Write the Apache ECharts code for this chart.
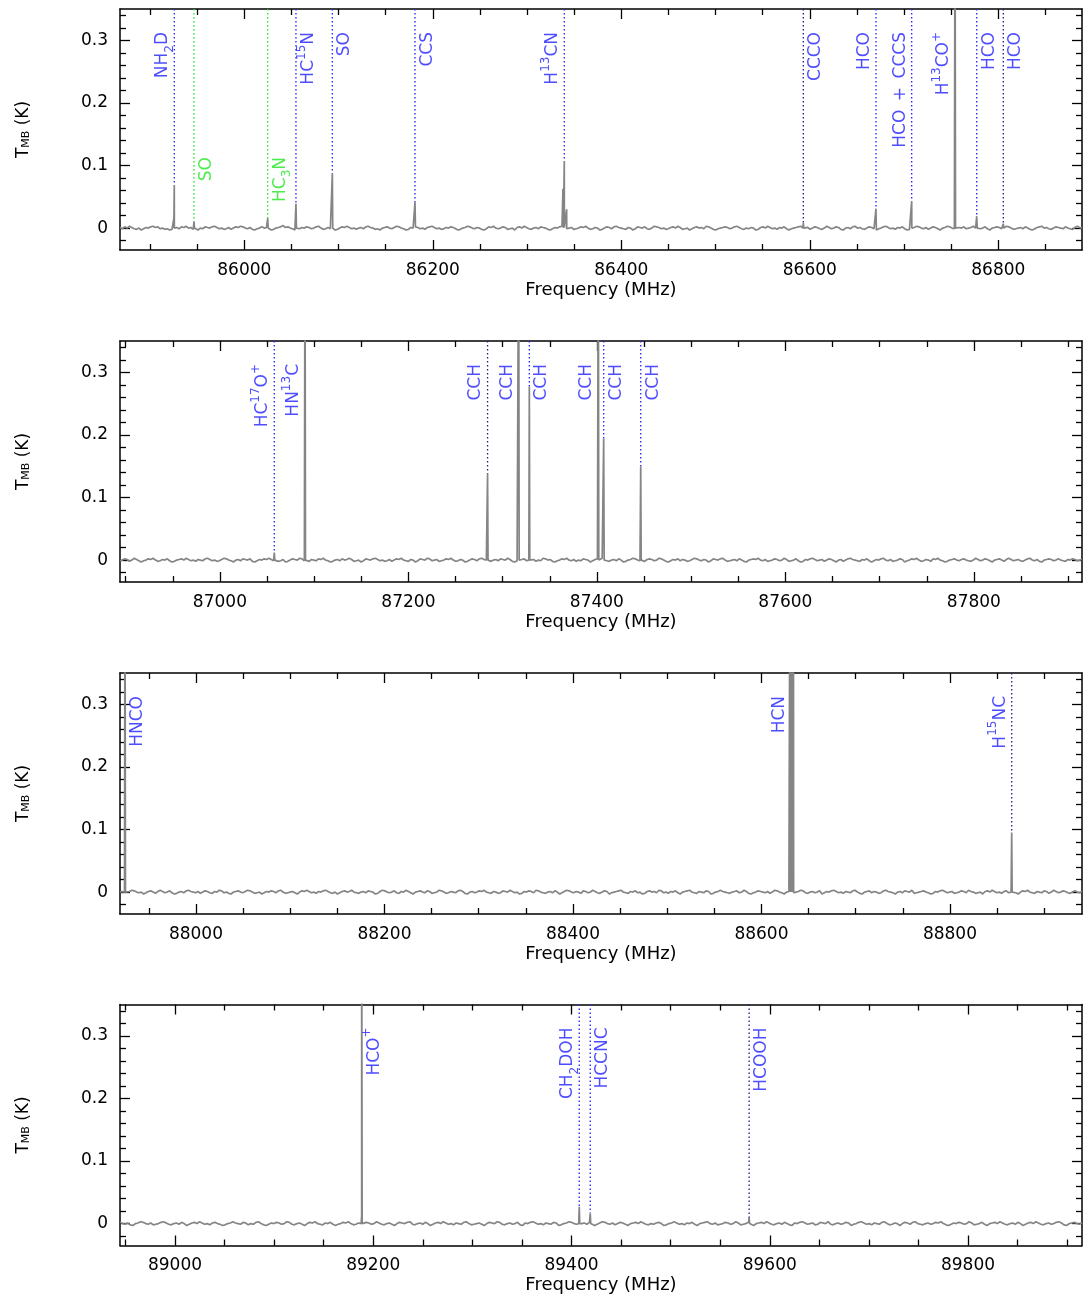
<!DOCTYPE html>
<html><head><meta charset="utf-8">
<script src="https://cdn.jsdelivr.net/npm/echarts@6/dist/echarts.min.js"></script>
<style>html,body{margin:0;padding:0;background:#fff}#c{width:1083px;height:1301px}</style>
</head><body><div id="c"></div>
<script>
// ---------------- DATA ----------------
// frequency range shown in each panel (MHz)
const panelRange = [[85868.1, 86888.8], [86894.0, 87914.7], [87919.4, 88940.1], [88944.5, 89915.0]];
const yMin = -0.035, yMax = 0.35;
const xTickValues = [
  [86000, 86200, 86400, 86600, 86800],
  [87000, 87200, 87400, 87600, 87800],
  [88000, 88200, 88400, 88600, 88800],
  [89000, 89200, 89400, 89600, 89800]
];
const yTickValues = [0, 0.1, 0.2, 0.3];
const yTickLabels = ['0', '0.1', '0.2', '0.3'];

// baseline noise (mK), evenly spread over each panel
const noise1 = [1,-1,2,0,3,1,-1,-2,0,-3,-1,1,0,2,3,1,2,-1,0,-2,
-1,-3,-2,0,1,-1,2,1,3,0,1,-2,-1,-3,0,-1,2,1,0,2,
3,1,-1,0,-2,-1,1,-2,0,2,1,3,2,0,-1,1,-2,-3,-1,0,
2,0,1,-1,-3,-2,0,1,2,4,1,2,0,-1,-3,-2,-1,1,0,2,
1,-1,0,2,3,0,-2,-1,1,-1,0,-3,-2,0,2,1,3,1,-1,0,
-2,0,1,-1,2,3,1,0,-2,-1,-3,0,1,2,0,-1,1,3,2,0,
-1,-3,-2,1,0,2,1,-1,0,-2,1,2,3,1,-1,0,-2,-1,1,0,
2,1,-1,-3,-2,0,1,3,2,0,-1,1,0,-2,-3,-1,2,1,3,0,
-1,0,2,1,-2,-1,0,-3,1,2,0,3,1,-1,-2,0,1,-1,2,1,
0,-2,-3,-1,1,0,2,3,1,-1,0,1,-2,-1,0,2,1,3,0,-2,
-1,1,0,-3,-2,0,2,1,-1,2,3,1,0,-1,-2,1,0,-3,-1,2,
1,0,2,-1,-2,0,3,2,1,-1,0,-2,-1,1,2,0,3,1,-2,-1,
0,-3,-1,1,2,0,1,-1,3,2,0,-2,-3,-1,0,1,2,1,-1,0,
2,3,1,-1,-2,0,-1,1,0,-3,-2,1,2,0,3,1,-1,0,-2,1,
0,2,-1,-3,-1,0,1,2,3,0,-1,1,-2,0,2,1,-1,-2,0,3,
1,-1,0,2,1,-2,-3,0,1,-1,2,3,0,1,-1,-2,0,2,1,-1,
-3,-1,0,2,3,1,-1,0,-2,1,0,2,-1,-3,-2,0,1,3,2,0,
-1,1,-2,0,2,1,-1,-3,0,1,3,2,0,-1,-2,1,0,2,-1,0,
1,3,0,-2,-1,0,2,-1,-3,0,1,2,1,-1,0,3,2,0,-2,-1,
0,1,-1,2,0,-2,-3,-1,1,2,3,0,1,-1,-2,0,2,1,0,-1,
2,0,-1,-2,1,3,1,0];
const noise2 = [-1,0,2,1,-2,0,3,1,-1,-3,-1,0,2,1,3,0,-2,-1,1,0,
2,-1,-3,-2,0,1,2,0,3,1,-1,0,-2,1,0,-1,2,3,1,-1,
0,-2,-1,1,3,2,0,-1,-3,0,1,-1,2,1,0,2,-2,-3,-1,1,
0,2,1,3,1,-1,0,-2,-1,1,-3,-2,0,2,1,0,3,2,-1,0,
-2,1,0,-1,2,1,3,0,-1,-3,-2,0,1,-1,2,0,1,3,1,-2,
-1,0,-3,-1,2,1,0,2,3,1,-1,0,-2,-1,1,-2,0,2,1,3,
0,-1,-2,1,0,-3,-1,2,1,0,3,2,-1,0,1,-2,-1,0,2,1,
3,0,-2,-1,1,0,-3,-2,0,2,1,-1,2,3,1,0,-1,-2,0,1,
-1,2,1,0,3,1,-2,-3,-1,0,1,2,-1,0,2,1,-2,0,-1,3,
2,0,1,-2,-3,-1,0,2,1,3,0,-1,1,-2,0,-1,2,1,0,-3,
-1,1,2,0,3,1,-1,-2,0,1,-1,2,0,-3,-2,0,1,3,2,0,
-1,0,-2,1,2,1,-1,0,3,2,0,-2,-3,-1,1,0,2,-1,1,0,
-2,-1,1,3,2,0,-1,1,0,-3,-1,2,1,0,2,3,0,-2,-1,0,
1,-1,2,0,-2,-3,0,1,2,1,3,0,-1,1,-2,-1,0,2,1,-1,
0,3,1,-2,-1,0,2,-1,-3,-2,1,0,2,3,1,-1,0,1,-2,0,
2,1,-1,-3,0,1,-2,0,2,3,1,0,-1,-2,1,0,2,-1,-3,-1,
1,0,2,3,0,-1,1,-2,-1,0,2,1,-3,-1,0,2,1,3,0,-2,
-1,1,0,-2,2,1,3,0,-1,-3,-2,0,1,2,0,-1,1,2,0,-1,
-2,0,3,1,-1,0,2,1,-1,-3,0,1,2,0,-2,1,3,1,-1,0,
1,-1,-2,0,2,3,0,-1,1,-2,-3,0,1,2,1,-1,0,2,0,-1,
-2,1,0,2,1,-1,0,1];
const noise3 = [0,1,-2,-1,1,3,2,0,-1,0,-3,-1,1,2,0,-2,1,3,1,-1,
0,2,-1,-3,-2,0,1,-1,2,3,1,0,-1,1,-2,0,2,1,-1,-2,
1,0,3,2,-1,0,-2,-3,0,1,2,0,-1,1,3,2,0,-2,-1,0,
-3,-1,1,0,2,1,-1,2,3,0,-2,-1,0,1,-1,-3,0,2,1,3,
1,-1,0,-2,1,0,2,3,1,-1,-2,0,-3,-1,1,2,0,1,3,0,
-1,-2,0,1,-1,2,1,0,-3,-2,1,3,2,0,-1,0,2,-1,-2,1,
0,3,1,-1,-3,0,1,2,0,-1,2,1,-2,-1,0,3,2,0,-2,-1,
1,0,-1,2,3,1,-2,-3,0,1,-1,0,2,1,3,0,-1,-2,1,0,
-2,-1,2,1,0,3,1,-1,0,-3,-2,1,0,2,1,-1,3,2,0,-1,
-2,0,1,-1,2,0,-3,-1,1,3,2,0,-1,1,0,-2,2,1,-1,0,
3,1,-1,-2,0,2,1,-3,-1,0,1,2,3,0,-1,-2,1,0,2,-1,
0,-3,-2,1,2,0,1,-1,3,2,-1,0,-2,1,0,2,-1,-3,0,1,
2,3,0,-1,-2,1,0,-1,2,1,-3,-2,0,1,3,1,0,-1,-2,0,
1,2,-1,0,3,1,-2,-3,-1,0,2,1,0,-1,1,-2,0,3,2,0,
-1,-3,0,1,2,-1,0,1,3,2,-1,-2,0,1,-1,0,2,-3,-1,1,
0,2,3,1,-1,0,-2,1,0,-1,2,3,0,-2,-3,0,1,2,-1,1,
0,-2,-1,2,3,1,0,-1,-3,0,1,-1,2,1,0,3,-2,-1,0,1,
2,0,-1,-3,-2,1,0,2,3,1,-1,0,1,-2,-1,0,2,1,-1,3,
1,0,-2,-1,0,-3,1,2,0,3,1,-1,0,-2,1,2,-1,0,1,-1,
-3,0,2,1,3,0,-1,-2,1,0,-1,2,1,-2,0,3,1,-1,0,2,
1,-1,-2,0,2,0,-1,1];
const noise4 = [2,0,-1,1,-2,-3,0,1,3,2,0,-1,1,-2,-1,0,2,3,1,-1,
-2,0,1,-1,2,0,-3,-1,1,2,0,3,1,-1,0,-2,1,2,0,-1,
-3,-2,0,1,3,1,0,-1,2,1,-2,0,-1,2,3,0,-2,-3,-1,1,
0,2,1,-1,0,3,2,-1,-2,0,1,-1,-3,0,2,1,3,0,-1,-2,
1,0,2,-1,-3,-1,0,2,1,3,0,-2,-1,1,0,-2,2,1,-1,0,
3,1,-1,-2,0,1,-1,-3,0,2,1,0,2,3,-1,-2,0,1,-1,2,
0,-3,-1,1,2,0,3,1,-1,0,-2,1,0,-1,2,3,0,-2,-1,0,
1,-1,-3,0,2,1,0,3,2,-1,-2,0,1,-1,0,2,-2,-3,1,0,
2,3,1,-1,0,-2,1,0,-1,2,1,-3,-2,0,1,3,2,0,-1,-2,
0,1,-1,2,0,-3,-1,1,3,2,0,-1,1,-2,0,2,1,-1,-3,0,
1,2,0,3,1,-1,-2,0,-1,1,2,0,-3,-2,0,1,3,1,-1,0,
-2,1,0,2,-1,-3,0,1,2,3,0,-1,1,-2,-1,0,2,1,-1,0,
3,1,-2,-1,0,2,-1,-3,0,1,2,0,3,1,-1,-2,0,1,-1,2,
0,-2,-3,1,0,2,3,1,-1,0,1,-2,-1,2,1,0,3,-1,-2,0,
1,-1,0,2,1,-3,-1,0,2,3,1,-1,0,-2,1,0,-1,2,3,0,
-2,-1,1,0,-3,0,2,1,-1,2,3,0,-1,-2,0,1,-1,0,2,1,
3,0,-2,-3,-1,1,0,2,1,-1,0,3,1,-2,-1,0,2,-1,-3,0,
1,2,0,3,1,-1,-2,0,1,-1,2,0,-3,-1,1,2,0,3,1,-1,
-2,0,1,-1,0,2,3,1,-2,-3,0,1,2,0,-1,1];

// spectral lines: [frequency MHz, peak T_MB (K), optional half width MHz]
const peaks1 = [[85925.2,0.015,1.2],[85925.7,0.069],[85946.6,0.011],[86024.8,0.0155],[86054.8,0.039],[86093.4,0.087],[86181.1,0.041],[86338.1,0.063],[86339.5,0.107],[86342.0,0.030],[86593.1,0.008],[86670.2,0.031],[86708.1,0.043],[86754.1,0.55],[86777.1,0.019],[86805.3,0.007]];
const peaks2 = [[87057.7,0.012],[87090.3,0.55],[87284.0,0.138],[87317.0,0.55],[87328.3,0.277],[87401.5,0.55],[87407.2,0.194],[87446.5,0.150]];
const peaks3 = [[87924.7,0.55],[88630.2,0.55],[88631.8,0.55],[88633.9,0.55],[88865.5,0.095]];
const peaks4 = [[89188.3,0.012,2.5],[89188.3,0.55],[89407.8,0.027],[89418.9,0.016],[89579.2,0.009]];

// line identifications: [frequency MHz, label]
const markers1 = [[85925.7,'NH_2D'],[85946.6,'SO'],[86024.8,'HC_3N'],[86054.8,'HC^{15}N'],[86093.4,'SO'],[86181.1,'CCS'],[86339.5,'H^{13}CN'],[86593.1,'CCCO'],[86670.2,'HCO'],[86708.1,'HCO\u2002+\u2002CCCS'],[86754.1,'H^{13}CO^+'],[86777.1,'HCO'],[86805.3,'HCO']];
const markers2 = [[87057.7,'HC^{17}O^+'],[87090.3,'HN^{13}C'],[87284.0,'CCH'],[87317.0,'CCH'],[87328.3,'CCH'],[87401.5,'CCH'],[87407.2,'CCH'],[87446.5,'CCH']];
const markers3 = [[87924.7,'HNCO'],[88631.8,'HCN'],[88865.5,'H^{15}NC']];
const markers4 = [[89188.3,'HCO^+'],[89407.8,'CH_2DOH'],[89418.9,'HCCNC'],[89579.2,'HCOOH']];
// marker style: colour (b blue, g green, k dark) - label side (l/r)
const markerStyle1 = ['b-l','g-r','g-r','b-r','b-r','b-r','b-l','k-r','b-l','b-l','b-l','b-r','k-r'];
const markerStyle2 = ['b-l','b-l','k-l','b-l','b-r','b-l','b-r','b-r'];
const markerStyle3 = ['b-r','b-l','k-l'];
const markerStyle4 = ['b-r','b-l','b-r','k-r'];

// ---------------- BUILD ----------------
const noises = [noise1, noise2, noise3, noise4];
const peaksAll = [peaks1, peaks2, peaks3, peaks4];
const markersAll = [markers1, markers2, markers3, markers4];
const stylesAll = [markerStyle1, markerStyle2, markerStyle3, markerStyle4];
const FONT = 'DejaVu Sans';
const gridTops = [9, 341, 673, 1004.5];
const COLORS = { b: '#2020ff', g: '#22e622', k: '#1a1a8a' };
const TEXTCOL = { b: '#2020ff', g: '#22e622', k: '#2020ff' };

function toRich(s) {
  let out = '', i = 0, buf = '';
  const flush = () => { if (buf) { out += '{n|' + buf + '}'; buf = ''; } };
  while (i < s.length) {
    const c = s[i];
    if (c === '_' || c === '^') {
      flush();
      let t;
      if (s[i + 1] === '{') { const j = s.indexOf('}', i); t = s.slice(i + 2, j); i = j + 1; }
      else { t = s[i + 1]; i += 2; }
      out += '{' + (c === '_' ? 'b' : 's') + '|' + t + '}';
    } else { buf += c; i++; }
  }
  flush();
  return out;
}

function buildSpectrum(range, noise, peaks) {
  const pts = [];
  const step = (range[1] - range[0]) / (noise.length - 1);
  noise.forEach((v, i) => pts.push([range[0] + i * step, v / 1000]));
  peaks.forEach(p => { const w = p[2] || 0.5; pts.push([p[0] - w, 0], [p[0], p[1]], [p[0] + w, 0]); });
  pts.sort((a, b) => a[0] - b[0]);
  return pts;
}

const grid = [], xAxis = [], yAxis = [], series = [];
const tickStyle = { color: '#000', width: 1.3 };
const lineStyleAx = { color: '#000', width: 1.5 };

for (let p = 0; p < 4; p++) {
  grid.push({ left: 120, right: 1, top: gridTops[p], height: 241 });
  const [mn, mx] = panelRange[p];
  const xMinor = [];
  for (let v = Math.ceil(mn / 50) * 50; v < mx; v += 50) if (v % 200 !== 0) xMinor.push(v);
  const yMinor = [];
  for (let k = -1; k <= 17; k++) if (k % 5 !== 0) yMinor.push(Math.round(k * 0.02 * 1000) / 1000);

  const xb = { type: 'value', gridIndex: p, min: mn, max: mx, splitLine: { show: false } };
  xAxis.push(
    Object.assign({}, xb, { position: 'bottom', axisLine: { onZero: false, lineStyle: lineStyleAx },
      axisTick: { inside: true, length: 10, customValues: xTickValues[p], lineStyle: tickStyle },
      axisLabel: { customValues: xTickValues[p], margin: 12, fontFamily: FONT, fontSize: 17, color: '#000', formatter: v => String(v) },
      name: 'Frequency (MHz)', nameLocation: 'middle', nameGap: 31,
      nameTextStyle: { fontFamily: FONT, fontSize: 18, color: '#000' } }),
    Object.assign({}, xb, { position: 'bottom', axisLine: { show: false, onZero: false },
      axisTick: { inside: true, length: 6, customValues: xMinor, lineStyle: tickStyle }, axisLabel: { show: false } }),
    Object.assign({}, xb, { position: 'top', axisLine: { onZero: false, lineStyle: lineStyleAx },
      axisTick: { inside: true, length: 10, customValues: xTickValues[p], lineStyle: tickStyle }, axisLabel: { show: false } }),
    Object.assign({}, xb, { position: 'top', axisLine: { show: false, onZero: false },
      axisTick: { inside: true, length: 6, customValues: xMinor, lineStyle: tickStyle }, axisLabel: { show: false } })
  );
  const yb = { type: 'value', gridIndex: p, min: yMin, max: yMax, splitLine: { show: false } };
  yAxis.push(
    Object.assign({}, yb, { position: 'left', axisLine: { onZero: false, lineStyle: lineStyleAx },
      axisTick: { inside: true, length: 10, customValues: yTickValues, lineStyle: tickStyle },
      axisLabel: { customValues: yTickValues, margin: 12, fontFamily: FONT, fontSize: 17, color: '#000',
        formatter: v => yTickLabels[yTickValues.findIndex(t => Math.abs(t - v) < 1e-9)] },
      name: '{t|T}{s|MB}{t| (K)}', nameLocation: 'middle', nameGap: 88, nameRotate: 90,
      nameTextStyle: { color: '#000', rich: { t: { fontFamily: FONT, fontSize: 17, color: '#000' }, s: { fontFamily: FONT, fontSize: 11, color: '#000', verticalAlign: 'bottom', lineHeight: 10 } } } }),
    Object.assign({}, yb, { position: 'left', axisLine: { show: false, onZero: false },
      axisTick: { inside: true, length: 6, customValues: yMinor, lineStyle: tickStyle }, axisLabel: { show: false } }),
    Object.assign({}, yb, { position: 'right', axisLine: { onZero: false, lineStyle: lineStyleAx },
      axisTick: { inside: true, length: 10, customValues: yTickValues, lineStyle: tickStyle }, axisLabel: { show: false } }),
    Object.assign({}, yb, { position: 'right', axisLine: { show: false, onZero: false },
      axisTick: { inside: true, length: 6, customValues: yMinor, lineStyle: tickStyle }, axisLabel: { show: false } })
  );

  const xi = 4 * p, yi = 4 * p;
  const peaks = peaksAll[p];
  const labelData = [];
  markersAll[p].forEach((m, k) => {
    const [col, side] = stylesAll[p][k].split('-');
    let bottom = 0;
    peaks.forEach(pk => { if (Math.abs(pk[0] - m[0]) < 1.5) bottom = Math.max(bottom, pk[1]); });
    series.push({ type: 'line', xAxisIndex: xi, yAxisIndex: yi, symbol: 'none', silent: true, z: 2,
      data: [[m[0], yMax], [m[0], bottom]],
      lineStyle: { color: COLORS[col], width: 1.3, type: [1.5, 2.5] } });
    const down = col === 'g' ? 148 : 23;
    labelData.push({ value: [m[0], yMax], label: {
      formatter: toRich(m[1]), color: TEXTCOL[col],
      verticalAlign: side === 'r' ? 'top' : 'bottom',
      offset: [-down, side === 'r' ? -0.5 : 1.5] } });
  });
  series.push({ type: 'line', xAxisIndex: xi, yAxisIndex: yi, symbol: 'none', silent: true, z: 3,
    data: buildSpectrum(panelRange[p], noises[p], peaks),
    lineStyle: { color: '#858585', width: 1.7 } });
  series.push({ type: 'scatter', xAxisIndex: xi, yAxisIndex: yi, symbol: 'circle', symbolSize: 1, clip: false, silent: true, z: 4,
    itemStyle: { color: 'rgba(0,0,0,0)' },
    data: labelData,
    label: { show: true, position: 'inside', rotate: 90, align: 'right', fontFamily: FONT,
      rich: { n: { fontFamily: FONT, fontSize: 17, lineHeight: 26 },
              s: { fontFamily: FONT, fontSize: 12, lineHeight: 12, verticalAlign: 'top' },
              b: { fontFamily: FONT, fontSize: 12, lineHeight: 12, verticalAlign: 'bottom' } } } });
}

const chart = echarts.init(document.getElementById('c'), null, { renderer: 'canvas' });
chart.setOption({ animation: false, backgroundColor: '#fff', grid, xAxis, yAxis, series });
</script></body></html>
